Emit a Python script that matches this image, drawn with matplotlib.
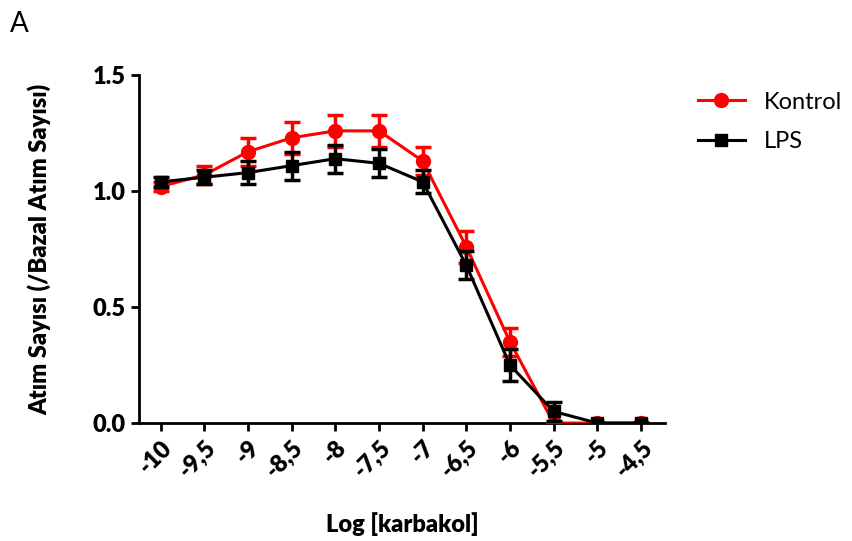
import matplotlib.pyplot as plt
import numpy as np

plt.rcParams['font.family'] = ['Lato', 'DejaVu Sans']

# log carbachol concentration steps
log_conc = [-10, -9.5, -9, -8.5, -8, -7.5, -7, -6.5, -6, -5.5, -5, -4.5]
tick_labels = ['-10', '-9,5', '-9', '-8,5', '-8', '-7,5', '-7', '-6,5', '-6', '-5,5', '-5', '-4,5']

# beat rate normalised to basal (mean, SEM)
kontrol_mean = [1.02, 1.07, 1.17, 1.23, 1.26, 1.26, 1.13, 0.76, 0.35, 0.0, 0.0, 0.0]
kontrol_sem = [0.02, 0.04, 0.06, 0.07, 0.07, 0.07, 0.06, 0.07, 0.06, 0.0, 0.0, 0.0]
lps_mean = [1.04, 1.06, 1.08, 1.11, 1.14, 1.12, 1.04, 0.68, 0.25, 0.05, 0.0, 0.0]
lps_sem = [0.02, 0.03, 0.05, 0.06, 0.06, 0.06, 0.05, 0.06, 0.07, 0.04, 0.0, 0.0]

fig = plt.figure(figsize=(8.52, 5.41), dpi=100)
ax = fig.add_axes([0.163, 0.218, 0.618, 0.643])

ax.errorbar(log_conc, kontrol_mean, yerr=kontrol_sem, color='#ff0000', marker='o',
            markersize=10, linewidth=2.2, capsize=6, capthick=2.5, elinewidth=2.5, label='Kontrol', zorder=3)
ax.errorbar(log_conc, lps_mean, yerr=lps_sem, color='black', marker='s',
            markersize=9, linewidth=2.2, capsize=6, capthick=2.5, elinewidth=2.5, label='LPS', zorder=4)

ax.set_xlim(-10.25, -4.22)
ax.set_ylim(0, 1.5)
ax.set_yticks([0, 0.5, 1.0, 1.5])
ax.set_yticklabels(['0.0', '0.5', '1.0', '1.5'], fontweight='heavy', fontsize=17)
ax.set_xticks(log_conc)
ax.set_xticklabels(tick_labels, rotation=45, ha='right', va='top', rotation_mode='anchor',
                   fontweight='heavy', fontsize=17)

for side in ['top', 'right']:
    ax.spines[side].set_visible(False)
for side in ['left', 'bottom']:
    ax.spines[side].set_linewidth(2)
ax.tick_params(width=2, length=6)

ax.set_ylabel('Atım Sayısı (/Bazal Atım Sayısı)', fontweight='heavy', fontsize=17, labelpad=30)
ax.set_xlabel('Log [karbakol]', fontweight='heavy', fontsize=17, labelpad=22)

handles, labels = ax.get_legend_handles_labels()
handles = [h[0] for h in handles]
fig.legend(handles, labels, loc='upper left', bbox_to_anchor=(0.794, 0.87), frameon=False,
           fontsize=17, handlelength=2.0, labelspacing=0.8)

fig.text(0.012, 0.98, 'A', fontsize=20, va='top', ha='left')

fig.savefig('out.png', dpi=100)
